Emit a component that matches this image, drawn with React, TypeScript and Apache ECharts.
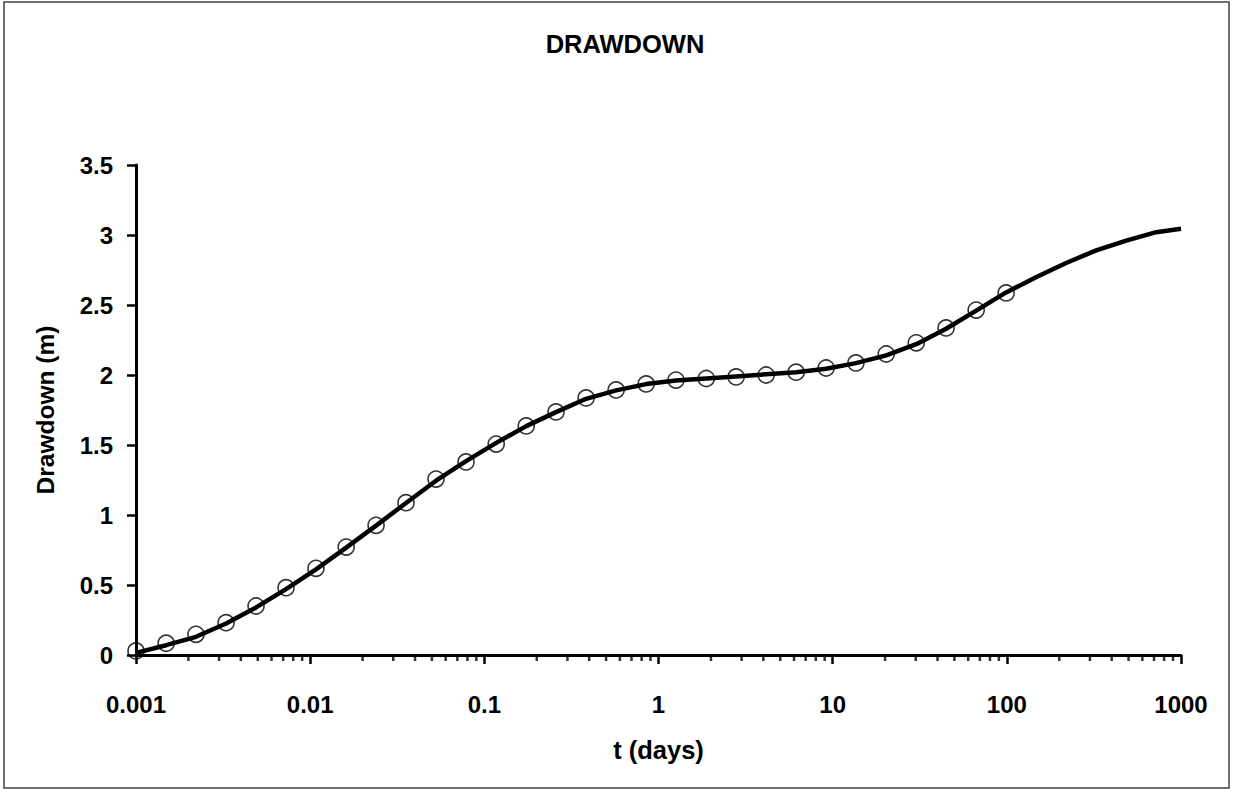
import React, { useEffect, useRef } from "react";
import * as echarts from "echarts";

const times = [0.001, 0.00149, 0.00221, 0.00329, 0.00489, 0.00727, 0.0108, 0.0161, 0.0239, 0.0355, 0.0528, 0.0785, 0.117, 0.174, 0.258, 0.384, 0.571, 0.849, 1.26, 1.88, 2.79, 4.15, 6.17, 9.17, 13.6, 20.3, 30.2, 44.8, 66.7, 99.1];
const observed = [0.029, 0.084, 0.148, 0.231, 0.35, 0.481, 0.619, 0.771, 0.926, 1.088, 1.257, 1.379, 1.507, 1.636, 1.736, 1.836, 1.893, 1.936, 1.964, 1.975, 1.986, 2.0, 2.02, 2.05, 2.086, 2.15, 2.23, 2.336, 2.464, 2.586];
const modelTimes = [0.001, 0.00149, 0.00221, 0.00329, 0.00489, 0.00727, 0.0108, 0.0161, 0.0239, 0.0355, 0.0528, 0.0785, 0.117, 0.174, 0.258, 0.384, 0.571, 0.849, 1.26, 1.88, 2.79, 4.15, 6.17, 9.17, 13.6, 20.3, 30.2, 44.8, 66.7, 99.1, 148, 219, 326, 485, 721, 1000];
const modelValues = [0.015, 0.07, 0.13, 0.225, 0.34, 0.47, 0.612, 0.767, 0.924, 1.086, 1.245, 1.385, 1.515, 1.635, 1.735, 1.83, 1.89, 1.935, 1.96, 1.975, 1.99, 2.005, 2.02, 2.045, 2.085, 2.14, 2.22, 2.33, 2.46, 2.59, 2.7, 2.8, 2.89, 2.96, 3.02, 3.045];
const decades = [0.001, 0.01, 0.1, 1, 10, 100];
const minorMultipliers = [2, 3, 4, 5, 6, 7, 8, 9];
const xTickLabels: Record<string, string> = { "0.001": "0.001", "0.01": "0.01", "0.1": "0.1", "1": "1", "10": "10", "100": "100", "1000": "1000" };

const FONT = "'Liberation Sans', Arial, sans-serif";

export default function App() {
  const ref = useRef<HTMLDivElement>(null);
  useEffect(() => {
    if (!ref.current) return;
    const chart = echarts.init(ref.current, undefined, { renderer: "svg" });
    const minorTicks: number[][] = [];
    decades.forEach((d) => minorMultipliers.forEach((m) => minorTicks.push([d * m, 0])));
    const fmt = (v: number) => {
      const key = v >= 1 ? String(Math.round(v)) : String(Number(v.toPrecision(1)));
      return xTickLabels[key] ?? key;
    };
    chart.setOption({
      animation: false,
      backgroundColor: "#ffffff",
      title: {
        text: "DRAWDOWN",
        left: 620,
        textAlign: "center",
        top: 26,
        textStyle: { fontFamily: FONT, fontWeight: "bold", fontSize: 25.5, color: "#000" },
      },
      graphic: [
        {
          type: "rect",
          shape: { x: 4, y: 2, width: 1225, height: 786 },
          style: { fill: "none", stroke: "#404040", lineWidth: 1.5 },
          silent: true,
        },
      ],
      grid: { left: 136, right: 52, top: 165, bottom: 137, containLabel: false },
      xAxis: {
        type: "log",
        logBase: 10,
        min: 0.001,
        max: 1000,
        name: "t (days)",
        nameLocation: "middle",
        nameGap: 82,
        nameTextStyle: { fontFamily: FONT, fontWeight: "bold", fontSize: 25.5, color: "#000" },
        axisLine: { show: true, lineStyle: { color: "#000", width: 3 } },
        axisTick: { show: true, length: 9, lineStyle: { color: "#000", width: 2.5 } },
        axisLabel: { margin: 37, formatter: fmt, fontFamily: FONT, fontWeight: "bold", fontSize: 24, color: "#000" },
        splitLine: { show: false },
      },
      yAxis: {
        type: "value",
        min: 0,
        max: 3.5,
        interval: 0.5,
        name: "Drawdown (m)",
        nameLocation: "middle",
        nameGap: 78,
        nameTextStyle: { fontFamily: FONT, fontWeight: "bold", fontSize: 24.5, color: "#000" },
        axisLine: { show: true, lineStyle: { color: "#000", width: 3 } },
        axisTick: { show: true, length: 9, lineStyle: { color: "#000", width: 2.5 } },
        axisLabel: { margin: 23, fontFamily: FONT, fontWeight: "bold", fontSize: 24, color: "#000" },
        splitLine: { show: false },
      },
      series: [
        {
          name: "minor ticks",
          type: "scatter",
          data: minorTicks,
          symbol: "rect",
          symbolSize: [2.5, 6],
          symbolOffset: [0, 3],
          itemStyle: { color: "#000" },
          silent: true,
          clip: false,
          z: 1,
        },
        {
          name: "Model",
          type: "line",
          data: modelTimes.map((t, i) => [t, modelValues[i]]),
          showSymbol: false,
          symbol: "none",
          lineStyle: { color: "#000", width: 4.5 },
          z: 2,
        },
        {
          name: "Observed",
          type: "scatter",
          data: times.map((t, i) => [t, observed[i]]),
          symbol: "circle",
          symbolSize: 16,
          itemStyle: { color: "rgba(255,255,255,0)", borderColor: "#000", borderWidth: 1.6 },
          clip: false,
          z: 3,
        },
      ],
    });
    return () => chart.dispose();
  }, []);
  return <div ref={ref} style={{ position: "fixed", left: 0, top: 0, width: 1233, height: 792 }} />;
}
